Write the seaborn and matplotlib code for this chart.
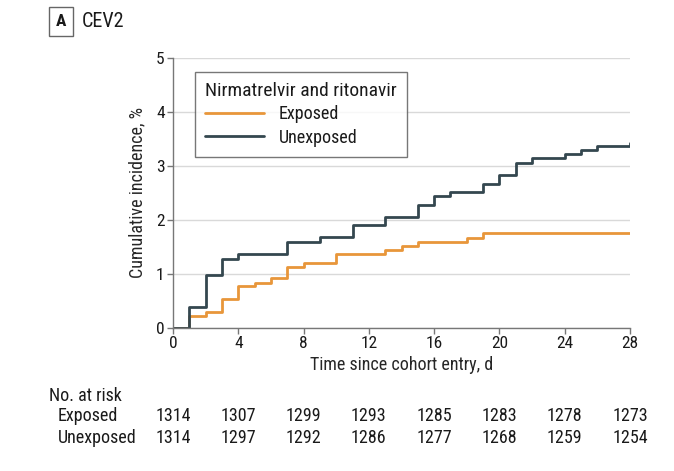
import numpy as np
import pandas as pd
import matplotlib
matplotlib.use("Agg")
import matplotlib.pyplot as plt
import matplotlib.transforms as mtransforms
import seaborn as sns

# ─── data ────────────────────────────────────────────────────────────────
exposed_days = [0, 1, 2, 3, 4, 5, 6, 7, 8, 10, 13, 14, 15, 18, 19, 28]
exposed_inc = [0, 0.22, 0.30, 0.53, 0.77, 0.84, 0.92, 1.13, 1.21, 1.37,
               1.44, 1.52, 1.60, 1.67, 1.75, 1.75]
unexposed_days = [0, 1, 2, 3, 4, 7, 9, 11, 13, 15, 16, 17, 19, 20, 21,
                  22, 24, 25, 26, 28]
unexposed_inc = [0, 0.38, 0.99, 1.28, 1.375, 1.60, 1.68, 1.915, 2.06,
                 2.28, 2.44, 2.51, 2.67, 2.83, 3.05, 3.14, 3.22, 3.30,
                 3.37, 3.43]

risk_days = [0, 4, 8, 12, 16, 20, 24, 28]
risk_exposed = [1314, 1307, 1299, 1293, 1285, 1283, 1278, 1273]
risk_unexposed = [1314, 1297, 1292, 1286, 1277, 1268, 1259, 1254]

groups = ["Exposed", "Unexposed"]
colors = {"Exposed": "#E8963A", "Unexposed": "#34474F"}

df = pd.concat([
    pd.DataFrame({"day": exposed_days, "inc": exposed_inc, "group": "Exposed"}),
    pd.DataFrame({"day": unexposed_days, "inc": unexposed_inc, "group": "Unexposed"}),
])

sns.set_theme(style="white")
plt.rcParams["font.family"] = ["Roboto Condensed", "DejaVu Sans"]
plt.rcParams["font.weight"] = "normal"
plt.rcParams["text.color"] = "#1a1a1a"

fig = plt.figure(figsize=(6.74, 4.71), dpi=100)
ax = fig.add_axes([0.2567, 0.3036, 0.678, 0.5733])

sns.lineplot(data=df, x="day", y="inc", hue="group", hue_order=groups,
             palette=colors, drawstyle="steps-post", linewidth=2, ax=ax,
             estimator=None, sort=False)

ax.set_xlim(0, 28)
ax.set_ylim(0, 5)
ax.set_xticks(risk_days)
ax.set_yticks(range(6))
ax.yaxis.grid(True, color="#D9D9D9", linewidth=1)
ax.set_axisbelow(True)
for s in ["top", "right"]:
    ax.spines[s].set_visible(False)
for s in ["left", "bottom"]:
    ax.spines[s].set_color("#777777")
    ax.spines[s].set_linewidth(1)
ax.tick_params(axis="both", which="major", direction="out", length=4,
               width=1, color="#777777", labelsize=12.5, pad=2,
               labelcolor="#1a1a1a", bottom=True, left=True)
ax.set_xlabel("Time since cohort entry, d", fontsize=13, labelpad=3)
ax.set_ylabel("Cumulative incidence, %", fontsize=13, labelpad=7)

leg = ax.legend(title="Nirmatrelvir and ritonavir", loc="upper left",
                bbox_to_anchor=(0.048, 0.948), borderaxespad=0, fontsize=13,
                title_fontsize=14, frameon=True, fancybox=False,
                edgecolor="#555555", handlelength=3.3, alignment="left",
                borderpad=0.55, labelspacing=0.3, handletextpad=0.8)
leg.get_frame().set_linewidth(1)
for line in leg.get_lines():
    line.set_linewidth(2)

# title with boxed panel letter
fig.text(0.0903, 0.955, "A", fontsize=12.5, fontweight="bold", ha="center", va="center",
         bbox=dict(boxstyle="square,pad=0.4", facecolor="white", edgecolor="#666666"))
fig.text(0.122, 0.955, "CEV2", fontsize=14.5, ha="left", va="center")

# number at risk table
trans = mtransforms.blended_transform_factory(ax.transData, fig.transFigure)
fig.text(0.073, 0.159, "No. at risk", fontsize=13, ha="left", va="center")
fig.text(0.086, 0.117, "Exposed", fontsize=13, ha="left", va="center")
fig.text(0.086, 0.070, "Unexposed", fontsize=13, ha="left", va="center")
for d, e, u in zip(risk_days, risk_exposed, risk_unexposed):
    ax.text(d, 0.117, str(e), transform=trans, fontsize=13, ha="center", va="center")
    ax.text(d, 0.070, str(u), transform=trans, fontsize=13, ha="center", va="center")

fig.savefig("out.png", dpi=100, facecolor="white")
